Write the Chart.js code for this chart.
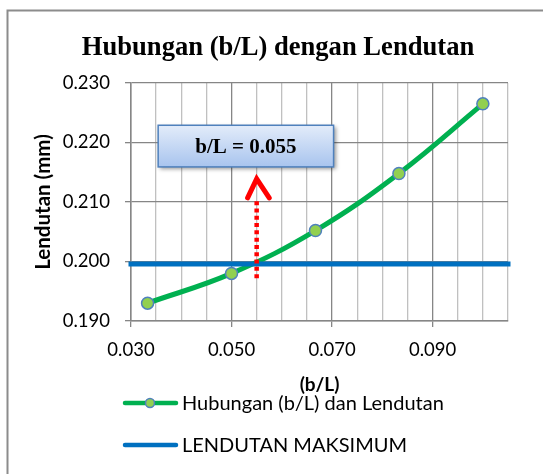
<!DOCTYPE html>
<html>
<head>
<meta charset="utf-8">
<script src="https://cdn.jsdelivr.net/npm/chart.js@4.4.1/dist/chart.umd.min.js"></script>
<style>
  html, body { margin: 0; padding: 0; background: #fff; }
</style>
</head>
<body>
<canvas id="grafik" width="543" height="474"></canvas>
<script>
// nilai
const bL = [0.0333, 0.05, 0.0667, 0.0833, 0.1];
const lendutan = [0.193, 0.198, 0.2052, 0.2148, 0.2265];
const maksX = [0.03, 0.105];
const lendutanMaks = 0.1996;
// panah merah ke b/L = 0.055
const panahX = 0.055;
const panahY = [0.1972, 0.2107];
const kepalaX = [0.0532, 0.055, 0.0575];
const kepalaY = [0.2107, 0.2139, 0.2107];
// kotak keterangan
const kotakTeks = "b/L = 0.055";
const kotakX = [0.0354, 0.0703];
const kotakY = [0.2159, 0.2229];

const sans = "Lato, 'Open Sans', sans-serif";
const serif = "'Liberation Serif', 'Times New Roman', serif";

//major tick every 0.020 starting from 0.030
const isMajor = (v) => Math.round(v * 1000 - 30) % 20 === 0;

//white background + outer frame
const bingkai = {
  id: "bingkai",
  beforeDraw(chart) {
    const ctx = chart.ctx;
    ctx.save();
    ctx.fillStyle = "#fff";
    ctx.fillRect(0, 0, chart.width, chart.height);
    ctx.strokeStyle = "#8c8c8c";
    ctx.lineWidth = 2;
    ctx.beginPath();
    ctx.moveTo(7.5, chart.height);
    ctx.lineTo(7.5, 10.5);
    ctx.lineTo(chart.width, 10.5);
    ctx.stroke();
    ctx.restore();
  },
};

//blue text box
const kotak = {
  id: "kotak",
  afterDatasetsDraw(chart) {
    const { ctx, scales } = chart;
    const x1 = scales.x.getPixelForValue(kotakX[0]);
    const x2 = scales.x.getPixelForValue(kotakX[1]);
    const y1 = scales.y.getPixelForValue(kotakY[1]);
    const y2 = scales.y.getPixelForValue(kotakY[0]);
    ctx.save();
    const grad = ctx.createLinearGradient(0, y1, 0, y2);
    grad.addColorStop(0, "#e3ecfa");
    grad.addColorStop(1, "#a8c4ee");
    ctx.shadowColor = "rgba(0,0,0,0.4)";
    ctx.shadowBlur = 4;
    ctx.shadowOffsetX = 2;
    ctx.shadowOffsetY = 2;
    ctx.fillStyle = grad;
    ctx.fillRect(x1, y1, x2 - x1, y2 - y1);
    ctx.shadowColor = "transparent";
    ctx.strokeStyle = "#4f81bd";
    ctx.lineWidth = 1.5;
    ctx.strokeRect(x1, y1, x2 - x1, y2 - y1);
    ctx.fillStyle = "#000";
    ctx.font = "bold 21px " + serif;
    ctx.textAlign = "center";
    ctx.textBaseline = "middle";
    ctx.fillText(kotakTeks, (x1 + x2) / 2, (y1 + y2) / 2 + 1);
    ctx.restore();
  },
};

//legend stacked under the chart
const legenda = {
  id: "legenda",
  afterDraw(chart) {
    const ctx = chart.ctx;
    const items = chart.data.datasets.filter((d) => d.label);
    items.forEach((ds, i) => {
      const y = 403 + i * 42;
      ctx.save();
      ctx.strokeStyle = ds.borderColor;
      ctx.lineWidth = 4.5;
      ctx.lineCap = "round";
      ctx.beginPath();
      ctx.moveTo(125, y);
      ctx.lineTo(176, y);
      ctx.stroke();
      if (ds.pointRadius > 0) {
        ctx.beginPath();
        ctx.arc(150, y, 4.5, 0, Math.PI * 2);
        ctx.fillStyle = ds.pointBackgroundColor;
        ctx.fill();
        ctx.lineWidth = 1.5;
        ctx.strokeStyle = ds.pointBorderColor;
        ctx.stroke();
      }
      ctx.fillStyle = "#000";
      ctx.font = "20px " + sans;
      ctx.textBaseline = "middle";
      ctx.fillText(ds.label, 182, y + 1);
      ctx.restore();
    });
  },
};

const toXY = (xs, ys) => xs.map((x, i) => ({ x: x, y: ys[i] }));

new Chart(document.getElementById("grafik"), {
  type: "line",
  plugins: [bingkai, kotak, legenda],
  data: {
    datasets: [
      {
        label: "Hubungan (b/L) dan Lendutan",
        data: toXY(bL, lendutan),
        borderColor: "#00b050",
        borderWidth: 5,
        tension: 0.4,
        pointRadius: 6,
        pointBackgroundColor: "#92d050",
        pointBorderColor: "#4f81bd",
        pointBorderWidth: 1.5,
        order: 3,
      },
      {
        label: "LENDUTAN MAKSIMUM",
        data: maksX.map((x) => ({ x: x, y: lendutanMaks })),
        borderColor: "#0070c0",
        borderWidth: 5,
        borderCapStyle: "square",
        pointRadius: 0,
        clip: false,
        order: 2,
      },
      {
        data: panahY.map((y) => ({ x: panahX, y: y })),
        borderColor: "#ff0000",
        borderWidth: 4.5,
        borderDash: [4, 3.3],
        pointRadius: 0,
        order: 1,
      },
      {
        data: toXY(kepalaX, kepalaY),
        borderColor: "#ff0000",
        borderWidth: 5,
        borderJoinStyle: "miter",
        borderCapStyle: "round",
        pointRadius: 0,
        tension: 0,
        order: 0,
      },
    ],
  },
  options: {
    responsive: false,
    animation: false,
    layout: { padding: { left: 48, right: 35, top: 0, bottom: 78 } },
    plugins: {
      legend: { display: false },
      tooltip: { enabled: false },
      title: {
        display: true,
        text: "Hubungan (b/L) dengan Lendutan",
        color: "#000",
        font: { family: serif, size: 26.6, weight: "bold" },
        padding: { top: 32.5, bottom: 18.6 },
      },
    },
    scales: {
      x: {
        type: "linear",
        min: 0.03,
        max: 0.105,
        afterFit: (s) => { s.height = 75; },
        border: { color: "#868686", width: 1.5 },
        grid: {
          color: (c) => (c.tick && isMajor(c.tick.value) ? "#868686" : "#c0c0c0"),
          tickColor: (c) => (c.tick && isMajor(c.tick.value) ? "#868686" : "rgba(0,0,0,0)"),
          tickLength: 6,
          lineWidth: 1.3,
        },
        ticks: {
          stepSize: 0.005,
          autoSkip: false,
          maxRotation: 0,
          padding: 12,
          color: "#000",
          font: { family: sans, size: 18.5 },
          callback: (v) => (isMajor(v) ? v.toFixed(3) : ""),
        },
        title: {
          display: true,
          text: "(b/L)",
          color: "#000",
          font: { family: sans, size: 19, weight: "bold" },
          padding: { top: 0, bottom: 0 },
        },
      },
      y: {
        min: 0.19,
        max: 0.23,
        afterFit: (s) => { s.width = 83; },
        border: { color: "#868686", width: 1.5 },
        grid: { color: "#868686", tickLength: 6, lineWidth: 1.3 },
        ticks: {
          stepSize: 0.01,
          padding: 15,
          color: "#000",
          font: { family: sans, size: 18.5 },
          callback: (v) => v.toFixed(3),
        },
        title: {
          display: true,
          text: "Lendutan (mm)",
          color: "#000",
          font: { family: sans, size: 20.5, weight: "bold" },
          padding: { top: -17.3, bottom: 0 },
        },
      },
    },
  },
});
</script>
</body>
</html>
